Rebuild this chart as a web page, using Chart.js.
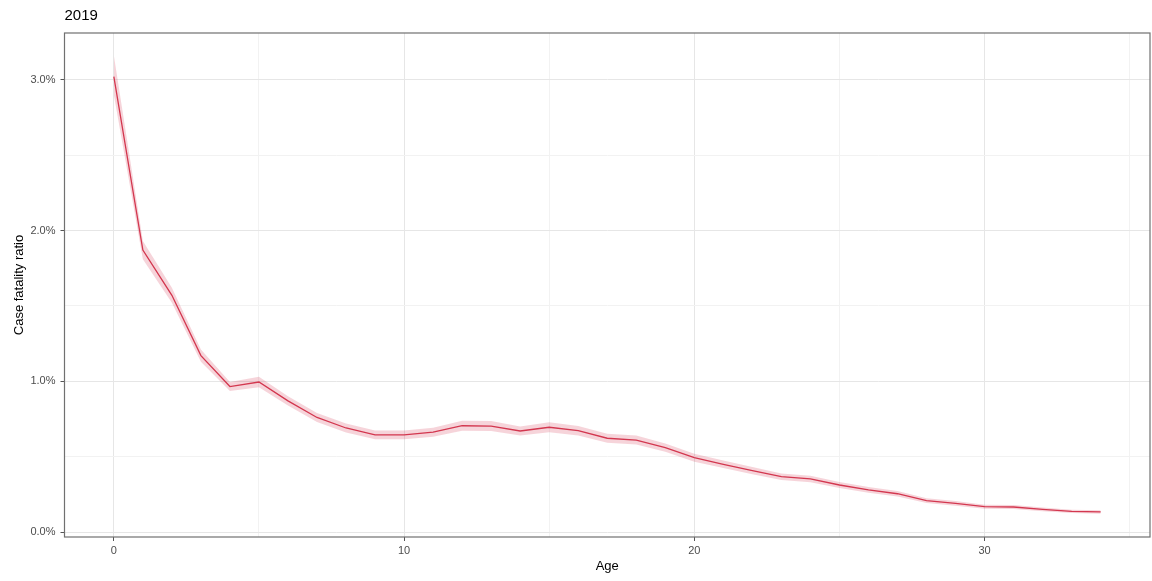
<!DOCTYPE html>
<html>
<head>
<meta charset="utf-8">
<script src="https://cdn.jsdelivr.net/npm/chart.js@4"></script>
<style>
  html, body { margin: 0; padding: 0; background: #fff; }
  #wrap { width: 1152px; height: 581px; }
</style>
</head>
<body>
<div id="wrap"><canvas id="cfrChart" width="1152" height="581"></canvas></div>
<script>
// Age (years) and case fatality ratio (%)
var ages = [0, 1, 2, 3, 4, 5, 6, 7, 8, 9, 10, 11, 12, 13, 14, 15, 16, 17, 18, 19, 20,
  21, 22, 23, 24, 25, 26, 27, 28, 29, 30, 31, 32, 33, 34];
var cfr = [3.02, 1.87, 1.57, 1.17, 0.965, 0.995, 0.87, 0.76, 0.69, 0.644, 0.644, 0.662, 0.705, 0.703, 0.67, 0.695, 0.672, 0.622, 0.61, 0.56, 0.493,
  0.449, 0.407, 0.367, 0.352, 0.312, 0.279, 0.254, 0.208, 0.19, 0.168, 0.166, 0.15, 0.137, 0.133];
var cfrLow = [2.90, 1.81, 1.52, 1.13, 0.935, 0.96, 0.84, 0.73, 0.66, 0.615, 0.615, 0.632, 0.672, 0.67, 0.64, 0.662, 0.64, 0.592, 0.58, 0.532, 0.466,
  0.424, 0.383, 0.345, 0.33, 0.292, 0.26, 0.236, 0.192, 0.175, 0.155, 0.153, 0.138, 0.126, 0.122];
var cfrHigh = [3.16, 1.93, 1.62, 1.21, 0.995, 1.03, 0.90, 0.79, 0.72, 0.673, 0.673, 0.692, 0.738, 0.736, 0.70, 0.728, 0.704, 0.652, 0.64, 0.588, 0.52,
  0.474, 0.431, 0.389, 0.374, 0.332, 0.298, 0.272, 0.224, 0.205, 0.181, 0.179, 0.162, 0.148, 0.144];

var xTicks = [0, 5, 10, 15, 20, 25, 30, 35];
var xTickLabels = ['0', '', '10', '', '20', '', '30', ''];
var yTicks = [0, 0.5, 1, 1.5, 2, 2.5, 3];
var yTickLabels = ['0.0%', '', '1.0%', '', '2.0%', '', '3.0%'];

var FONT = '"Liberation Sans", Arial, Helvetica, sans-serif';
Chart.defaults.font.family = FONT;

function pts(ys) {
  return ages.map(function (a, i) { return { x: a, y: ys[i] }; });
}

// panel border like theme_bw
var panelBorder = {
  id: 'panelBorder',
  afterDraw: function (chart) {
    var a = chart.chartArea, c = chart.ctx;
    c.save();
    c.strokeStyle = '#707070';
    c.lineWidth = 1.2;
    c.strokeRect(a.left, a.top, a.right - a.left, a.bottom - a.top);
    c.restore();
  }
};

var ctx = document.getElementById('cfrChart');
new Chart(ctx, {
  type: 'line',
  data: {
    datasets: [
      {
        label: 'upper',
        data: pts(cfrHigh),
        borderWidth: 0,
        pointRadius: 0,
        fill: '+1',
        backgroundColor: 'rgba(214,58,85,0.22)',
        order: 2
      },
      {
        label: 'lower',
        data: pts(cfrLow),
        borderWidth: 0,
        pointRadius: 0,
        fill: false,
        order: 2
      },
      {
        label: 'Case fatality ratio',
        data: pts(cfr),
        borderColor: '#d3374f',
        borderWidth: 1.3,
        pointRadius: 0,
        tension: 0,
        fill: false,
        order: 0
      }
    ]
  },
  options: {
    responsive: false,
    animation: false,
    layout: { padding: { left: 0, right: 2, top: 0, bottom: 0 } },
    plugins: {
      legend: { display: false },
      tooltip: { enabled: false },
      title: {
        display: true,
        text: '2019',
        align: 'start',
        fullSize: false,
        color: '#000',
        font: { size: 15, weight: 'normal' },
        padding: { top: 7, bottom: 8 }
      }
    },
    scales: {
      x: {
        type: 'linear',
        min: -1.7,
        max: 35.7,
        afterBuildTicks: function (axis) {
          axis.ticks = xTicks.map(function (v) { return { value: v }; });
        },
        afterFit: function (axis) { axis.height = 44; },
        ticks: {
          autoSkip: false,
          maxRotation: 0,
          color: '#4d4d4d',
          font: { size: 11 },
          padding: 3,
          callback: function (v, i) { return xTickLabels[i]; }
        },
        grid: {
          color: function (c) { return c.index % 2 === 0 ? '#e6e6e6' : '#f2f2f2'; },
          lineWidth: 1,
          tickColor: function (c) { return c.index % 2 === 0 ? '#555' : 'rgba(0,0,0,0)'; },
          tickLength: 4
        },
        border: { display: false },
        title: {
          display: true,
          text: 'Age',
          color: '#000',
          font: { size: 13 },
          padding: { top: 0, bottom: 7 }
        }
      },
      y: {
        type: 'linear',
        min: -0.033,
        max: 3.31,
        afterBuildTicks: function (axis) {
          axis.ticks = yTicks.map(function (v) { return { value: v }; });
        },
        afterFit: function (axis) { axis.width = 64.5; },
        ticks: {
          autoSkip: false,
          color: '#4d4d4d',
          font: { size: 11 },
          padding: 5,
          callback: function (v, i) { return yTickLabels[i]; }
        },
        grid: {
          color: function (c) { return c.index % 2 === 0 ? '#e6e6e6' : '#f2f2f2'; },
          lineWidth: 1,
          tickColor: function (c) { return c.index % 2 === 0 ? '#555' : 'rgba(0,0,0,0)'; },
          tickLength: 4
        },
        border: { display: false },
        title: {
          display: true,
          text: 'Case fatality ratio',
          color: '#000',
          font: { size: 13 },
          padding: { top: 12, bottom: 4 }
        }
      }
    }
  },
  plugins: [panelBorder]
});
</script>
</body>
</html>
